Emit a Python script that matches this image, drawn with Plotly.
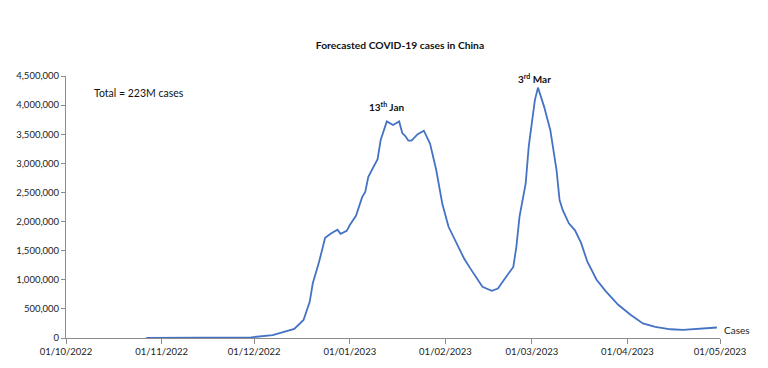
import plotly.graph_objects as go

dates = [
    "2022-10-27", "2022-11-14", "2022-11-30", "2022-12-07", "2022-12-14", "2022-12-17",
    "2022-12-19", "2022-12-20", "2022-12-22", "2022-12-24", "2022-12-26", "2022-12-28",
    "2022-12-29", "2022-12-31", "2023-01-01", "2023-01-03", "2023-01-04", "2023-01-05",
    "2023-01-06", "2023-01-07", "2023-01-10", "2023-01-11", "2023-01-13", "2023-01-15",
    "2023-01-17", "2023-01-18", "2023-01-19", "2023-01-20", "2023-01-21", "2023-01-23",
    "2023-01-25", "2023-01-27", "2023-01-29", "2023-01-31", "2023-02-02", "2023-02-05",
    "2023-02-07", "2023-02-09", "2023-02-11", "2023-02-13", "2023-02-16", "2023-02-18",
    "2023-02-20", "2023-02-23", "2023-02-24", "2023-02-25", "2023-02-27", "2023-02-28",
    "2023-03-02", "2023-03-03", "2023-03-05", "2023-03-07", "2023-03-09", "2023-03-10",
    "2023-03-11", "2023-03-13", "2023-03-15", "2023-03-17", "2023-03-19", "2023-03-22",
    "2023-03-25", "2023-03-29", "2023-04-02", "2023-04-06", "2023-04-10", "2023-04-15",
    "2023-04-19", "2023-04-24", "2023-04-30",
]
cases = [
    0, 3000, 12000, 50000, 155000, 310000,
    620000, 940000, 1300000, 1720000, 1800000, 1860000,
    1790000, 1840000, 1940000, 2100000, 2260000, 2420000,
    2510000, 2770000, 3070000, 3400000, 3720000, 3660000,
    3720000, 3520000, 3470000, 3390000, 3390000, 3500000,
    3560000, 3340000, 2890000, 2300000, 1910000, 1570000,
    1370000, 1200000, 1030000, 880000, 810000, 850000,
    1000000, 1220000, 1570000, 2080000, 2650000, 3290000,
    4090000, 4300000, 3970000, 3570000, 2890000, 2370000,
    2200000, 1970000, 1850000, 1630000, 1310000, 1000000,
    800000, 570000, 400000, 250000, 190000, 150000,
    140000, 155000, 180000,
]

tick_dates = ["2022-10-01", "2022-11-01", "2022-12-01", "2023-01-01",
              "2023-02-01", "2023-03-01", "2023-04-01", "2023-05-01"]
tick_labels = ["01/10/2022", "01/11/2022", "01/12/2022", "01/01/2023",
               "01/02/2023", "01/03/2023", "01/04/2023", "01/05/2023"]
y_ticks = [0, 500000, 1000000, 1500000, 2000000, 2500000, 3000000, 3500000, 4000000, 4500000]

FONT = "Lato, 'Open Sans', sans-serif"
AXIS = "#8c8c8c"

fig = go.Figure()
fig.add_trace(go.Scatter(
    x=dates, y=cases, mode="lines", name="Cases",
    line=dict(color="#4472C4", width=1.8),
    showlegend=False,
))

fig.add_annotation(x=dates[-1], y=cases[-1], text="Cases", showarrow=False,
                   xanchor="left", yanchor="middle", xshift=5, yshift=-2,
                   font=dict(family=FONT, size=10, color="#222"))
fig.add_annotation(x="2023-01-13", y=3720000, text="<b>13<sup>th</sup> Jan</b>", showarrow=False,
                   xanchor="center", yanchor="bottom", yshift=6,
                   font=dict(family=FONT, size=10, color="#111"))
fig.add_annotation(x="2023-03-02", y=4300000, text="<b>3<sup>rd</sup> Mar</b>", showarrow=False,
                   xanchor="center", yanchor="bottom", yshift=1,
                   font=dict(family=FONT, size=10, color="#111"))
fig.add_annotation(x=0.04, xref="paper", y=4200000, text="Total = 223M cases", showarrow=False,
                   xanchor="left", yanchor="middle",
                   font=dict(family=FONT, size=10.5, color="#111"))

# the page body adds an 8px margin, so the figure is sized/offset to compensate
fig.update_layout(
    width=760, height=360,
    margin=dict(l=58, r=48, t=68, b=30),
    paper_bgcolor="white", plot_bgcolor="white",
    title=dict(text="<b>Forecasted COVID-19 cases in China</b>", x=392/760, xanchor="center",
               y=1 - 37/360, yanchor="middle", yref="container",
               font=dict(family=FONT, size=10.3, color="#111")),
    font=dict(family=FONT, size=9.5, color="#222"),
)
fig.update_xaxes(
    type="date", range=["2022-10-01", "2023-05-01"],
    tickvals=tick_dates, ticktext=tick_labels,
    showline=True, linecolor=AXIS, linewidth=1,
    ticks="outside", ticklen=5, tickcolor=AXIS,
    showgrid=False, zeroline=False, automargin=False,
    tickfont=dict(family=FONT, size=9.5, color="#222"),
)
fig.update_yaxes(
    range=[0, 4500000], tickvals=y_ticks, tickformat=",",
    showline=True, linecolor=AXIS, linewidth=1,
    ticks="outside", ticklen=4, tickcolor=AXIS,
    showgrid=False, zeroline=False, automargin=False,
    tickfont=dict(family=FONT, size=9.5, color="#222"),
)

fig.write_html("out.html")
